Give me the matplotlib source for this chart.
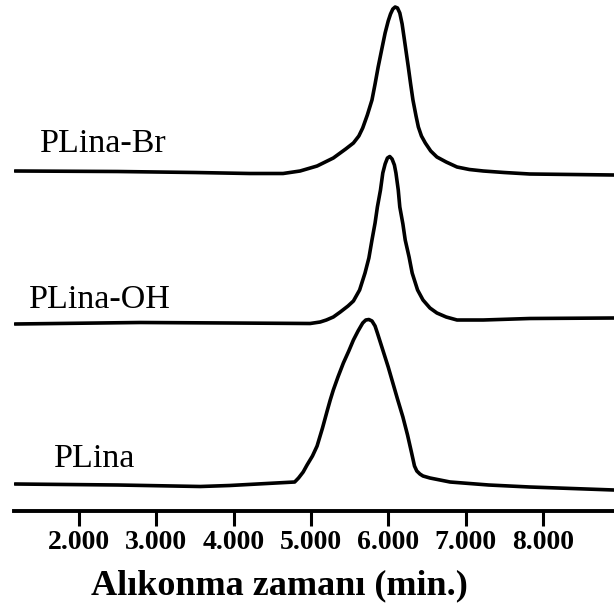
import matplotlib
matplotlib.use("Agg")
import matplotlib.pyplot as plt
from matplotlib.ticker import FixedLocator, FormatStrFormatter

# ---- data (retention time in min, detector signal in arbitrary units) ----
t_br = [1.17, 2.50, 3.50, 4.21, 4.64, 4.86, 5.08, 5.29, 5.45, 5.55, 5.62, 5.67, 5.73,
        5.79, 5.83, 5.87, 5.92, 5.96, 6.00, 6.03, 6.06, 6.09, 6.12, 6.15, 6.18, 6.21,
        6.26, 6.29, 6.32, 6.36, 6.39, 6.43, 6.48, 6.55, 6.63, 6.75, 6.89, 7.05, 7.23,
        7.50, 7.83, 8.92]
s_br = [340, 339.5, 338.5, 337.5, 337.5, 340, 345, 353, 362, 368, 375, 383, 396,
        411, 427, 444, 463, 478, 490, 497, 502, 504, 503, 498, 487, 471,
        444, 427, 411, 395, 384, 375, 368, 360, 354, 349, 344, 341.5, 340,
        338.5, 337, 336]

t_oh = [1.17, 2.79, 3.95, 4.99, 5.12, 5.20, 5.29, 5.38, 5.48, 5.55, 5.63, 5.70, 5.75,
        5.79, 5.83, 5.86, 5.90, 5.93, 5.96, 5.99, 6.02, 6.05, 6.08, 6.10, 6.13, 6.15,
        6.19, 6.22, 6.27, 6.31, 6.38, 6.45, 6.54, 6.63, 6.75, 6.89, 7.23, 7.83, 8.92]
s_oh = [187, 188.5, 188, 187.5, 189, 191, 194, 199, 205, 210, 221, 238, 253,
        271, 288, 304, 321, 338, 347, 353, 354.5, 352, 346, 338, 321, 304,
        287, 271, 254, 238, 221, 211, 203, 198, 194, 191, 191, 192.5, 193]

t_pl = [1.17, 2.50, 3.57, 3.95, 4.79, 4.84, 4.90, 4.95, 5.02, 5.08, 5.15, 5.21, 5.25,
        5.29, 5.35, 5.42, 5.49, 5.55, 5.61, 5.67, 5.71, 5.75, 5.79, 5.83, 5.86, 5.93,
        6.00, 6.06, 6.12, 6.19, 6.25, 6.30, 6.34, 6.37, 6.41, 6.45, 6.54, 6.80, 7.30,
        7.83, 8.92]
s_pl = [27, 26, 24.5, 25.5, 29, 33, 39, 46, 55, 65, 83, 100, 111,
        121, 134, 148, 160, 171, 180, 188, 191, 191.5, 190, 185, 178, 161,
        144, 128, 112, 94, 76, 59, 45, 40, 37, 35, 33, 29, 26,
        24, 21]

series_names = ["PLina-Br", "PLina-OH", "PLina"]
xticks = [2, 3, 4, 5, 6, 7, 8]

W, H, DPI = 614, 606, 100
fig = plt.figure(figsize=(W / DPI, H / DPI), dpi=DPI)
ax = fig.add_axes([14 / W, (H - 511) / H, (W - 14) / W, 511 / H])

for t, s in [(t_br, s_br), (t_oh, s_oh), (t_pl, s_pl)]:
    ax.plot(t, s, color="black", lw=2.6, solid_joinstyle="round", solid_capstyle="round")

ax.set_xlim(1.159, 8.921)
ax.set_ylim(0, 511)

for side in ["left", "right", "top"]:
    ax.spines[side].set_visible(False)
ax.spines["bottom"].set_linewidth(2.8)
ax.yaxis.set_visible(False)
ax.xaxis.set_major_locator(FixedLocator(xticks))
ax.xaxis.set_major_formatter(FormatStrFormatter("%.3f"))
ax.tick_params(axis="x", direction="out", length=11, width=2.2, pad=3,
               labelsize=20, colors="black")
for lab in ax.get_xticklabels():
    lab.set_fontfamily("Liberation Serif")
    lab.set_fontweight("bold")

# curve labels
label_pos = [(1.497, 511 - 152), (1.355, 511 - 308), (1.679, 511 - 467)]
for name, (x, y) in zip(series_names, label_pos):
    ax.text(x, y, name, fontsize=24.5, family="Liberation Serif", va="baseline", ha="left")

fig.text(279.5 / W, 1 - 594 / H, "Alıkonma zamanı (min.)", fontsize=26,
         family="Liberation Serif", fontweight="bold", ha="center", va="baseline")

fig.savefig("out.png", dpi=DPI)
